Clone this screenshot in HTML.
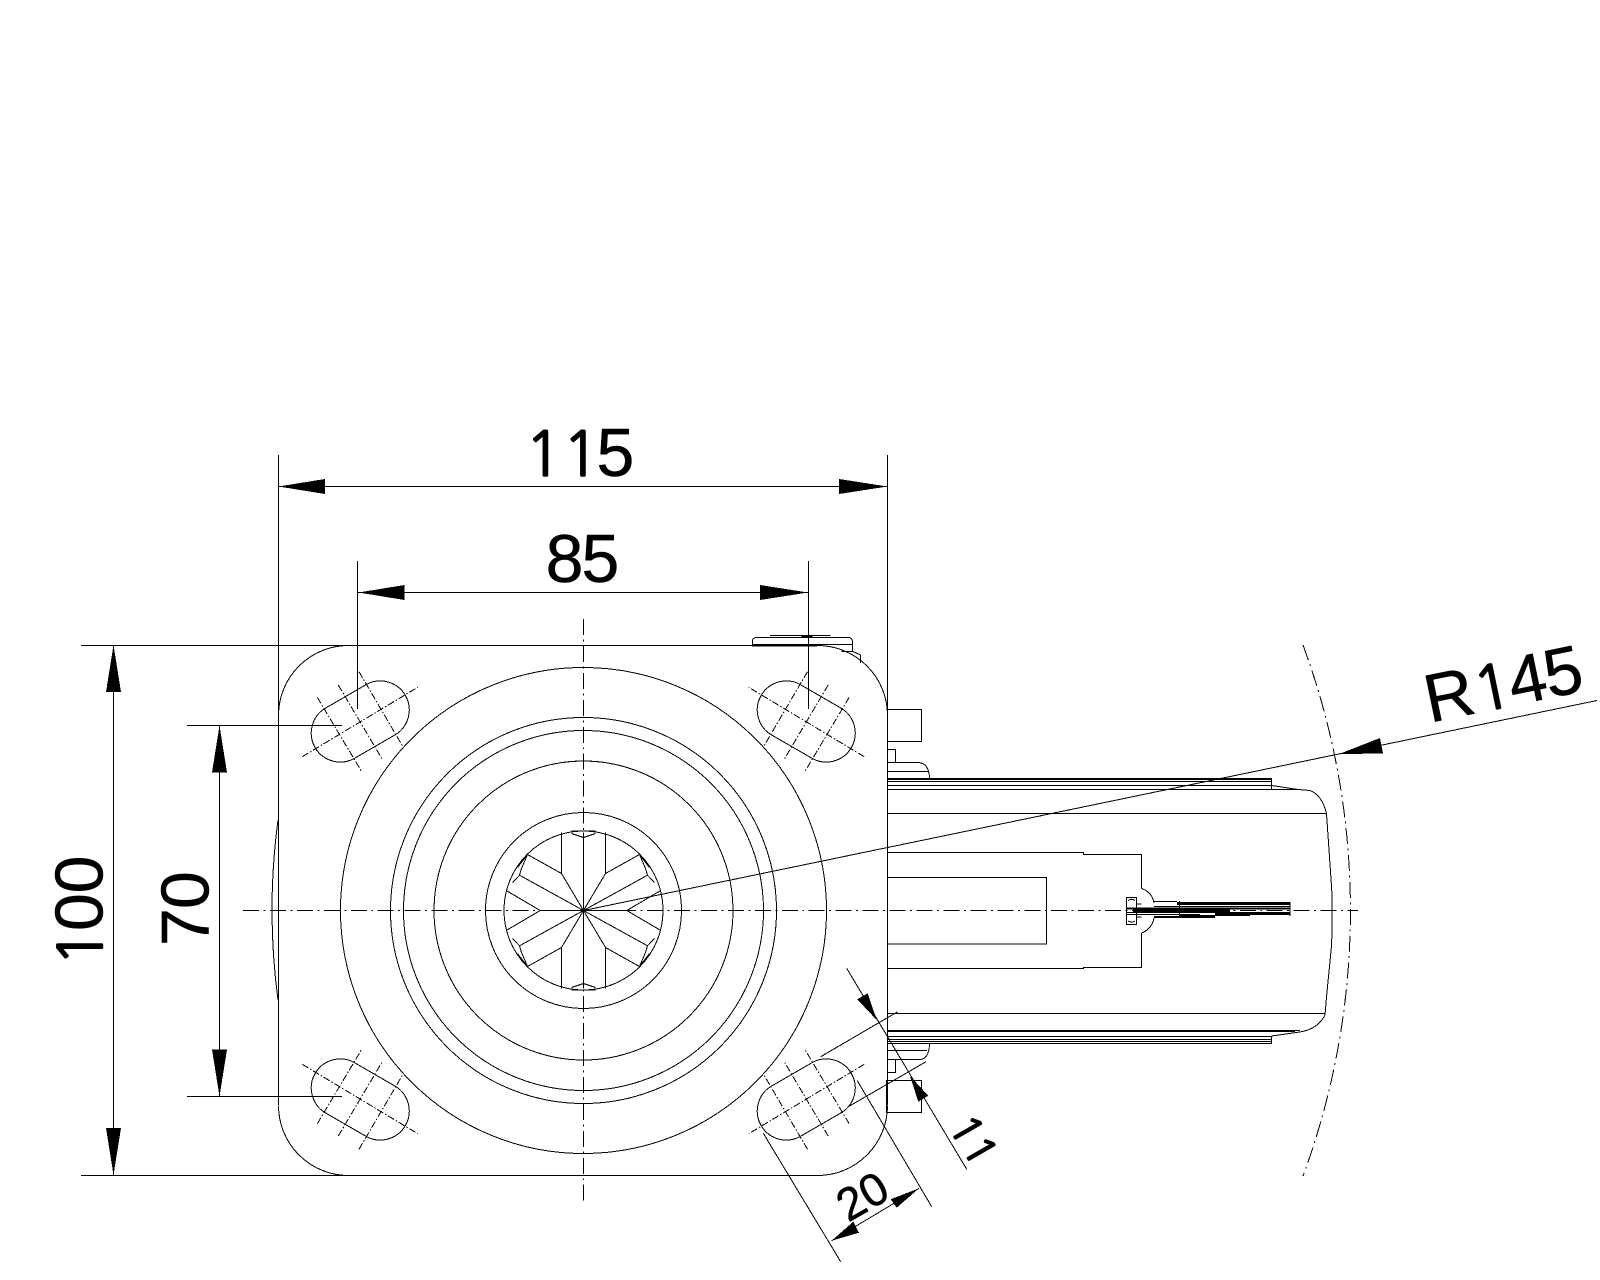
<!DOCTYPE html>
<html><head><meta charset="utf-8"><style>
html,body{margin:0;padding:0;background:#fff}
svg{display:block}
text{font-family:"Liberation Sans",sans-serif;fill:#000;stroke:#000;stroke-width:.5}
text.o{font-family:"NanumGothic","Liberation Sans",sans-serif;text-anchor:middle;stroke-width:1.5}
</style></head><body>
<svg xmlns="http://www.w3.org/2000/svg" width="1600" height="1280" viewBox="0 0 1600 1280" shape-rendering="crispEdges">
<rect width="1600" height="1280" fill="#fff"/>
<defs>
<g id="slot" fill="none" stroke="#000">
<path d="M366.5 684.4 L325 708.4 A29 29 0 0 0 354 758.6 L395.5 734.6 A29 29 0 0 0 366.5 684.4 Z"/>
<g stroke-dasharray="7 2 1.5 2">
<path d="M302.3 756.7 L417.7 687.3"/>
<path d="M338.3 685 L382.7 760"/>
<path d="M317.3 697.3 L361.7 771.7"/>
<path d="M359 671.7 L403.3 747.3"/>
</g>
</g>
<g id="star" fill="none" stroke="#000">
<path d="M-22 -78 V-37 L0 0"/>
<path d="M-56 -56 L-22 -37"/>
<path d="M-64 -35.3 L0 0"/>
<path d="M-77.3 -20 L-43.3 0"/>
<path d="M-56 -56 L-62 -42 L-64 -35.3 L-71 -28"/>
<path d="M-56 -56 L-66 -43"/>
<path d="M0 -73 L-12 -77 M-12 -79.5 H0"/>
</g>
</defs>

<!-- plate -->
<g fill="none" stroke="#000">
<path d="M81 645.5 H817.5 A70 70 0 0 1 887.5 715.5"/>
<path d="M348.5 645.5 A70 70 0 0 0 278.5 715.5"/>
<path d="M81 1175.5 H817.5 A70 70 0 0 0 887.5 1105.5"/>
<path d="M348.5 1175.5 A70 70 0 0 1 278.5 1105.5"/>
<path d="M278 820 Q266 910 278 1000"/>
<path d="M278.5 455 V1105"/>
<path d="M887.5 455 V1105"/>
<path d="M357.5 561 V709"/>
<path d="M808.5 561 V709"/>
<path d="M187 725.5 H342"/>
<path d="M187 1096.5 H342"/>
<circle cx="583.5" cy="910.5" r="243"/>
<circle cx="583.5" cy="910.5" r="193"/>
<circle cx="583.5" cy="910.5" r="180"/>
<circle cx="583.5" cy="910.5" r="149.5"/>
<circle cx="583.5" cy="910.5" r="98"/>
<circle cx="583.5" cy="910.5" r="79.5"/>
</g>

<use href="#slot"/>
<use href="#slot" transform="translate(1166.5,0) scale(-1,1)"/>
<use href="#slot" transform="translate(0,1821) scale(1,-1)"/>
<use href="#slot" transform="translate(1166.5,1821) scale(-1,-1)"/>

<g transform="translate(583.5,910.5)">
<use href="#star"/>
<use href="#star" transform="scale(-1,1)"/>
<use href="#star" transform="scale(1,-1)"/>
<use href="#star" transform="scale(-1,-1)"/>
<path d="M0 -78 V78 M-43.3 0 H43.3" fill="none" stroke="#000"/>
</g>

<g fill="none" stroke="#000" stroke-dasharray="16 4.5 1.94 4.5">
<path d="M243 910.5 H1358"/>
<path d="M583.5 619 V1202"/>
<path d="M1303 645 A767 767 0 0 1 1303 1176"/>
</g>

<g fill="none" stroke="#000">
<path d="M752.5 645 V641 Q752.5 637.5 757 637.5 H848 Q852.5 637.5 852.5 642 V651.5"/>
<path d="M770 635.5 H830.5"/>
<path d="M841.5 651.5 H853 L860.5 655 V663"/>
<path d="M752 644.5 H852"/>
<path d="M752 645.5 H817" stroke-width="2"/>
<path d="M801.5 636 H812.5" stroke-width="2"/>
</g>

<g fill="none" stroke="#000">
<rect x="887.5" y="709.5" width="34" height="32"/>
<path d="M887 749.5 H895.5 V762.5"/>
<path d="M887 762.5 H918 Q929 763 929.5 778"/>
<path d="M887 771.5 H928.5"/>
<path d="M887 778.5 H1271.5 V789"/>
<path d="M887 779.5 H1271.5"/>
<path d="M887 781.5 H1271.5"/>
<path d="M887 785.5 H1271.5"/>
<path d="M887 789.5 H1298"/>
<path d="M887 813.5 H1326"/>
<path d="M887 1013.5 H1325"/>
<path d="M887 1030.5 H1300"/>
<path d="M887 1031.5 H1295"/>
<path d="M887 1036.5 H1271.5"/>
<path d="M887 1039.5 H1271.5"/>
<path d="M887 1041.5 H1271.5"/>
<path d="M887 1043.5 H1271.5 V1036"/>
<path d="M1271.5 785.5 L1298 789.5 L1310 790.5 Q1322 795 1326.5 813.5 L1331.5 886 Q1333 910 1331.5 946 L1326.5 997 L1325 1015 Q1318 1029 1300 1032 L1271.5 1036"/>
<path d="M887 852.5 H1083.5 V854.5 H1141.5 V888.5"/>
<path d="M887 968.5 H1083.5 V967.5 H1141.5 V933"/>
<rect x="887.5" y="877.5" width="159" height="66.5"/>
<path d="M887 1059.5 H920 Q929 1059 929.5 1044"/>
<path d="M887 1050.5 H927"/>
<path d="M887 1059.5 H895.5 V1072.5 H887"/>
<rect x="886.5" y="1080.5" width="35" height="32"/>
<rect x="1126.5" y="897.5" width="10" height="27"/>
<path d="M1136.5 904 H1141.5 M1136.5 917 H1141.5"/>
<path d="M1141.5 888.5 Q1152 892 1154 903 M1141.5 933 Q1152 929 1154 918"/>
<path d="M1179.5 901 V918 M1290 902 V916"/>
<path d="M1128 900.5 Q1132 898 1135 900.5 M1128 921 Q1132 923 1135 921"/>
<path d="M1154 901.5 H1177"/>
<path d="M1177 902.5 H1290"/>
<path d="M1177 904 H1290" stroke-width="2"/>
<path d="M1154 906.5 H1290"/>
<path d="M1126 908.5 H1290" stroke-width="2"/>
<path d="M1133 910.5 H1230" stroke-width="3"/>
<path d="M1126 912.5 H1290"/>
<path d="M1215 914 H1290" stroke-width="2"/>
<path d="M1126 914.5 H1200"/>
<path d="M1180 915.5 H1250"/>
<path d="M1154 917 H1215" stroke-width="2"/>
</g>

<g fill="none" stroke="#000">
<path d="M278.5 486.5 H887.5"/>
<path d="M357.5 592.5 H808.5"/>
<path d="M113.5 645 V1175"/>
<path d="M219.5 725.5 V1096.5"/>
<path d="M583.5 910.5 L1597 700.5"/>
<path d="M820.7 1056.7 L897.7 1011.7"/>
<path d="M848.3 1106.7 L926 1061.7"/>
<path d="M846.7 968.3 L966.7 1169.3"/>
<path d="M763.3 1133.3 L840.7 1261.7"/>
<path d="M857.3 1080.7 L931.7 1206.7"/>
<path d="M831.7 1240.7 L919 1188.3"/>
</g>
<g fill="#000" stroke="none">
<polygon points="278.5,486.5 325,479 325,494"/>
<polygon points="887.5,486.5 839,479 839,494"/>
<polygon points="358.5,592.5 404.5,585 404.5,600"/>
<polygon points="808,592.5 760,585 760,600"/>
<polygon points="113.5,645 106,692 121,692"/>
<polygon points="113.5,1175 106,1128 121,1128"/>
<polygon points="219.5,725.5 212,772.5 227,772.5"/>
<polygon points="219.5,1096.5 212,1049.5 227,1049.5"/>
<polygon points="1338.3,754.3 1383,753.3 1380,738"/>
<polygon points="876.7,1020 857.3,999.3 867.7,993.3"/>
<polygon points="910,1076 928.3,1095.7 918.3,1101.7"/>
<polygon points="831.7,1240.7 853.3,1221.7 859,1232.7"/>
<polygon points="919,1188.3 890.7,1199.3 896.7,1207.7"/>
</g>

<!-- labels -->
<g font-size="68">
<text class="o" font-size="61" x="543.5" y="476">1</text><text class="o" font-size="61" x="581" y="476">1</text><text x="596.5" y="476">5</text>
<text x="545.6" y="582">8</text><text x="581.5" y="582">5</text>
<g transform="translate(102.5,0) rotate(-90)">
<text class="o" font-size="61" x="-948" y="0">1</text><text x="-931" y="0">0</text><text x="-893.4" y="0">0</text>
</g>
<g transform="translate(208.5,0) rotate(-90)">
<text x="-946" y="0">7</text><text x="-909" y="0">0</text>
</g>
<g transform="translate(1429.7,722.8) rotate(-11.67)">
<text x="0" y="0">R</text><text class="o" font-size="61" x="68.5" y="0">1</text><text x="85.5" y="0">4</text><text x="122" y="0">5</text>
</g>
</g>
<g font-size="46">
<text class="o" font-size="41" stroke-width="1" transform="translate(954,1136.7) rotate(60)">1</text>
<text class="o" font-size="41" stroke-width="1" transform="translate(967.3,1158) rotate(60)">1</text>
<text text-anchor="middle" transform="translate(870.3,1210) rotate(-30)">20</text>
</g>
</svg>
</body></html>
